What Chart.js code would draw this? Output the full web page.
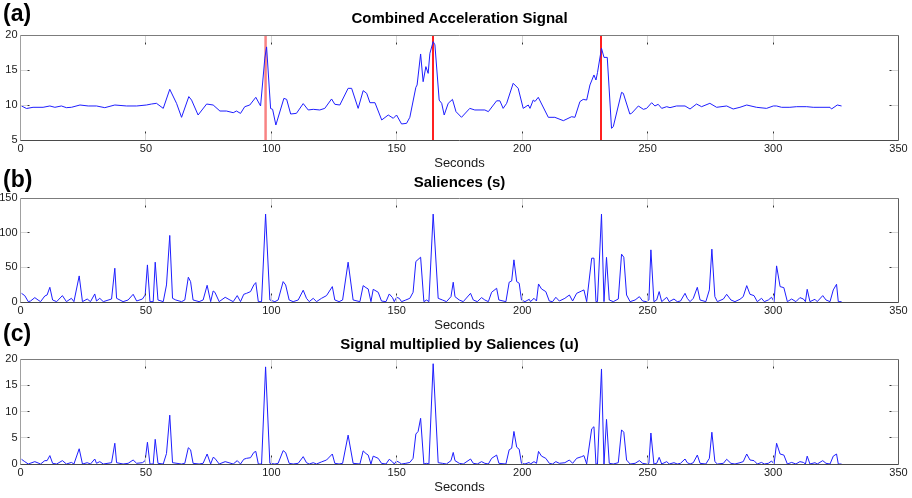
<!DOCTYPE html>
<html>
<head>
<meta charset="utf-8">
<script src="https://cdn.jsdelivr.net/npm/chart.js@4.4.0/dist/chart.umd.min.js"></script>
<style>
  body { margin: 0; background: #fff; width: 912px; height: 498px; position: relative; overflow: hidden;
         font-family: 'Liberation Sans', Arial, sans-serif; }
  canvas { position: absolute; left: 0; }
  .lbl { position: absolute; line-height: 0; white-space: nowrap; font-weight: bold; color: #000; }
  .letter { left: 3px; font-size: 23px; }
  .ttl { left: 20px; width: 879px; text-align: center; font-size: 15px; }
</style>
</head>
<body>
<canvas id="accelChart" width="912" height="151" style="top:20px"></canvas>
<canvas id="salienceChart" width="912" height="150" style="top:183px"></canvas>
<canvas id="productChart" width="912" height="151" style="top:344px"></canvas>

<div class="lbl letter" style="top:13px">(a)</div>
<div class="lbl ttl" style="top:18px">Combined Acceleration Signal</div>
<div class="lbl letter" style="top:179px">(b)</div>
<div class="lbl ttl" style="top:182px">Saliences (s)</div>
<div class="lbl letter" style="top:333px">(c)</div>
<div class="lbl ttl" style="top:344px">Signal multiplied by Saliences (u)</div>

<script>
//tick labels
const seconds = [0, 50, 100, 150, 200, 250, 300, 350];
const accelTicks = [5, 10, 15, 20];
const salienceTicks = [0, 50, 100, 150];
const productTicks = [0, 5, 10, 15, 20];

//red markers on the acceleration plot (seconds)
const peakTimes = [97.7, 164.5, 231.6];

//(a) combined acceleration signal
const accelTimes = [
  0.4, 2.4, 5, 9, 11.7, 13.7, 16.3, 18.3, 20.3, 23.7,
  27, 30.3, 33.6, 37.6, 42.3, 46.3, 50.2, 52.2, 54.2, 56.9,
  59.5, 62.2, 64.2, 67.1, 68.2, 70.8, 74.2, 76.8, 79.5, 82.1,
  84.8, 86.1, 87.7, 89.4, 91.4, 93.8, 95.7, 97.4, 98.1, 99.7,
  100.5, 101.8, 105, 106.1, 107.7, 110, 112.7, 114.7, 116.7, 119.3,
  121.3, 124, 125.3, 127.3, 130.6, 132, 134.6, 136.6, 138, 139.3,
  141.3, 144, 146.6, 148.6, 149.9, 151.9, 153.9, 155.2, 157.6, 158.1,
  159.5, 160.5, 161.6, 162.5, 163.2, 164.5, 165.2, 166.9, 167.9, 168.9,
  170.5, 172.2, 173.6, 175.8, 179.1, 181.1, 185.1, 186.5, 189.8, 191.1,
  192.4, 193.8, 196.4, 198.4, 200.4, 202.4, 203.1, 204.4, 205.1, 206.4,
  210.4, 213, 216.4, 219.7, 221, 223, 224.3, 225.7, 227, 228.6,
  229.4, 230, 231.6, 232.6, 233.9, 235.6, 236.3, 239.6, 240.3, 242.9,
  243.6, 246.3, 248.3, 249.6, 251.6, 252.9, 254.2, 255.6, 257.6, 258.9,
  261.5, 264.9, 266.9, 269.5, 271.5, 274.8, 277.5, 281.5, 284.1, 286.8,
  289.5, 293.4, 297.4, 300.1, 301.4, 303.4, 306.7, 309.4, 313.4, 316,
  318.7, 322.7, 323.3, 325.6, 327.3
];
const accelValues = [
  9.86, 9.5, 9.67, 9.67, 9.86, 9.67, 9.86, 9.62, 9.67, 10.0,
  9.86, 9.86, 9.62, 10.0, 9.86, 9.86, 10.0, 10.14, 10.24, 9.52,
  12.24, 10.24, 8.24, 11.2, 10.7, 8.57, 10.14, 10.0, 9.14, 9.14,
  8.9, 9.14, 8.8, 9.76, 10.0, 11.1, 9.86, 16.7, 18.3, 9.5,
  9.38, 7.14, 10.95, 10.8, 8.71, 8.81, 10.2, 9.29, 9.38, 9.29,
  9.52, 10.86, 10.1, 10.0, 12.38, 12.38, 9.52, 12.05, 11.67, 10.33,
  10.33, 7.86, 8.57, 8.1, 8.57, 7.29, 7.38, 8.24, 12.52, 12.86,
  17.29, 13.33, 15.48, 14.52, 17.38, 19.05, 18.6, 10.7, 10.24, 8.57,
  10.24, 10.8, 9.05, 8.24, 9.52, 9.29, 9.29, 9.05, 10.6, 10.6,
  9.52, 10.24, 13.1, 12.38, 9.52, 10.0, 9.52, 10.71, 10.5, 11.1,
  8.24, 8.24, 7.76, 8.33, 8.24, 10.48, 10.8, 10.71, 12.86, 14.29,
  13.57, 14.62, 18.1, 16.8, 16.8, 6.67, 6.9, 11.8, 11.67, 8.71,
  8.81, 9.86, 9.38, 9.52, 10.33, 9.86, 10.1, 9.52, 9.76, 9.62,
  9.86, 9.86, 9.43, 10.14, 9.76, 10.24, 9.67, 9.86, 9.43, 9.67,
  10.0, 9.67, 9.52, 9.86, 9.86, 9.67, 9.67, 9.76, 9.76, 9.67,
  9.67, 9.67, 9.43, 10.0, 9.86
];

//(b) saliences
const salienceTimes = [
  0.4, 1.7, 3.1, 4, 5.7, 7, 8, 9.7, 10.6, 11.7,
  12.8, 14.4, 16.7, 18.3, 20.3, 21.3, 23.4, 24.7, 26.6, 27.9,
  29.6, 30.3, 31.6, 33, 36.3, 37.6, 38.3, 40.9, 42.9, 44.9,
  46.3, 48.6, 49.7, 50.6, 51.6, 52.9, 53.7, 54.8, 56.9, 58.2,
  59.5, 60.6, 61.9, 64.2, 65.5, 66.9, 67.8, 68.8, 71.2, 72.8,
  74.4, 75.8, 76.8, 77.5, 79.2, 81.6, 83.5, 84.8, 86.4, 87.7,
  89, 90.1, 91.7, 93, 93.8, 94.8, 96.1, 97.7, 99.4, 101.4,
  102.7, 104.7, 105.7, 107.1, 108.7, 110.7, 112.7, 114, 115.1, 116.7,
  118, 120, 122, 124.3, 125.3, 127, 128.4, 130.6, 132.6, 135.3,
  136.6, 137.7, 138.6, 139.7, 140.6, 142.6, 143.9, 145.7, 147, 148.3,
  149, 149.9, 151, 151.9, 153.6, 155.2, 156.5, 157.6, 159.5, 160.8,
  161.9, 162.8, 164.5, 166.5, 168.2, 169.8, 171.6, 172.5, 173.2, 174.9,
  176.5, 179.4, 180.5, 182.1, 183.8, 185.1, 186.5, 187.8, 189.8, 190.7,
  193.5, 194.8, 195.8, 196.7, 197.8, 198.8, 199.7, 201.1, 202.8, 203.3,
  204.7, 205.7, 206.5, 207.7, 209.4, 210.8, 212.1, 213.4, 214.8, 217,
  218.8, 220.1, 221.7, 223.7, 224.6, 225.7, 227.7, 228.6, 229.4, 230,
  231.6, 232.6, 233.6, 234.7, 236.3, 238.3, 239.6, 240.5, 241.6, 243,
  245, 246.7, 248, 249.6, 250.5, 251.3, 252.5, 253.6, 254.6, 255.6,
  257.6, 258.6, 260.5, 261.8, 263.1, 264.9, 265.8, 266.9, 268.2, 269.8,
  270.9, 273.2, 274.6, 275.6, 276.8, 277.8, 280.2, 281.5, 283.2, 284.8,
  286.8, 288.1, 289.5, 290.8, 292.4, 293.7, 295.4, 296.5, 298.1, 299.4,
  300.4, 301.4, 302.8, 304.3, 305.7, 307.4, 309.1, 310.7, 312.1, 312.9,
  313.6, 314.7, 316.7, 317.6, 319.8, 321.1, 322.7, 324, 325.3, 326,
  327.3
];
const salienceValues = [
  12.5, 9.2, 0.5, 1.4, 6.3, 2.9, 0.5, 8.7, 10.1, 21.2,
  2.9, 0.5, 9.2, 0.5, 5.3, 0.5, 37.6, 0.5, 4.3, 0.5,
  11.6, 1.4, 5.3, 0.5, 4.3, 48.7, 5.3, 0.5, 2.9, 11.1,
  1.4, 4.3, 10.1, 53.5, 0.5, 0.5, 57.4, 2.9, 0.5, 24.6,
  96, 5.3, 2.9, 0.5, 2.9, 35.7, 29.4, 2.9, 0.5, 2.9,
  24.1, 0.5, 15.9, 14, 0.5, 6.8, 2.9, 0.5, 9.2, 0.5,
  11.1, 12.5, 15, 24.6, 28, 0.5, 0.5, 126.8, 2.9, 0.5,
  2.9, 29.4, 24.6, 2.9, 0.5, 2.9, 17, 5.3, 0.5, 5.3,
  0.5, 5.3, 9.2, 22.2, 2.9, 0.5, 2.9, 57.4, 2.9, 0.5,
  23.6, 20.7, 18.8, 0.5, 18.3, 14, 1.4, 0.5, 11.6, 6.3,
  0.5, 6.8, 5.3, 0.5, 2.9, 5.3, 14, 58.4, 64.6, 0.5,
  2.9, 0.5, 126.8, 5.3, 2.9, 0.5, 7.7, 28.5, 7.7, 2.9,
  0.5, 12.5, 2.9, 0.5, 6.3, 2.9, 0.5, 14, 19.8, 2.9,
  0.5, 28.5, 30.4, 60.8, 29.4, 27, 2.9, 0.5, 3.9, 0.5,
  5.3, 1.4, 26, 18.8, 15, 1.4, 0.5, 6.8, 1.4, 5.3,
  10.1, 1.4, 12.5, 15.9, 17.4, 0.5, 63.2, 63.2, 0.5, 0.5,
  126.8, 0.5, 64.4, 2.9, 0.5, 4.3, 69, 64.6, 10.1, 0.5,
  2.9, 7.7, 1.4, 0.5, 2.9, 75.2, 0.5, 2.9, 15, 0.5,
  6.8, 0.5, 4.3, 0.5, 1.4, 12.5, 5.3, 0.5, 5.3, 21.2,
  2.9, 0.5, 17.4, 76.2, 7.7, 0.5, 4.3, 11.1, 2.9, 0.5,
  3.9, 7.7, 23.6, 11.1, 9.2, 0.5, 5.3, 0.5, 2.9, 6.8,
  0.5, 52.1, 22.2, 20.7, 0.5, 4.3, 0.5, 6.3, 4.3, 0.5,
  18.3, 0.5, 3.9, 0.5, 9.2, 2.9, 0.5, 17.4, 25.6, 0.5,
  0.5
];

//(c) signal multiplied by saliences
const productTimes = [
  0.4, 1.7, 3.1, 5.7, 8, 9.7, 10.6, 11.7, 12.8, 14.4,
  16.7, 18.3, 20.3, 21.3, 23.4, 24.7, 26.6, 27.9, 29.6, 30.3,
  31.6, 33, 36.3, 37.6, 38.3, 40.9, 42.9, 44.9, 46.3, 48.6,
  49.7, 50.6, 51.6, 52.9, 53.7, 54.8, 56.9, 58.2, 59.5, 60.6,
  64.2, 65.5, 66.9, 67.8, 68.8, 71.2, 72.8, 74.4, 75.8, 76.8,
  77.5, 79.2, 81.6, 84.8, 86.4, 87.7, 89, 90.1, 91.7, 93,
  93.8, 94.8, 96.1, 97.7, 99.4, 101.4, 102.7, 104.7, 105.7, 107.1,
  108.7, 110.7, 112.7, 114, 115.1, 116.7, 118, 120, 122, 124.3,
  125.3, 127, 128.4, 130.6, 132.6, 135.3, 136.6, 137.7, 138.6, 139.7,
  140.6, 142.6, 143.9, 145.7, 147, 148.3, 149, 149.9, 151, 151.9,
  153.6, 155.2, 156.5, 157.6, 158.5, 159.5, 160.8, 161.9, 162.8, 164.5,
  166.5, 168.2, 169.8, 171.6, 172.5, 173.2, 174.9, 176.5, 179.4, 180.5,
  182.1, 183.8, 185.1, 186.5, 187.8, 189.8, 190.7, 193.5, 194.8, 195.8,
  196.7, 197.8, 198.8, 199.7, 201.1, 202.8, 203.3, 204.7, 205.7, 206.5,
  207.7, 209.4, 210.8, 212.1, 213.4, 214.8, 217, 218.8, 220.1, 221.7,
  223.7, 224.6, 225.7, 227.7, 228.6, 229.4, 230, 231.6, 232.6, 233.6,
  234.7, 236.3, 238.3, 239.6, 240.5, 241.6, 243, 245, 246.7, 248,
  249.6, 250.5, 251.3, 252.5, 253.6, 254.6, 255.6, 257.6, 258.6, 260.5,
  261.8, 263.1, 264.9, 265.8, 266.9, 268.2, 269.8, 270.9, 273.2, 274.6,
  275.6, 276.8, 277.8, 280.2, 281.5, 283.2, 284.8, 286.8, 288.1, 289.5,
  290.8, 292.4, 293.7, 295.4, 296.5, 298.1, 299.4, 300.4, 301.4, 302.8,
  304.3, 305.7, 307.4, 309.1, 310.7, 312.1, 312.9, 313.6, 314.7, 316.7,
  317.6, 319.8, 321.1, 322.7, 324, 325.3, 326, 327.3
];
const productValues = [
  0.9, 0.45, 0, 0.45, 0, 0.64, 0.64, 1.6, 0.13, 0,
  0.64, 0, 0.3, 0, 2.9, 0, 0.25, 0, 0.95, 0.13,
  0.45, 0, 0.25, 3.95, 0.25, 0, 0.13, 0.76, 0.13, 0.25,
  0.64, 4.14, 0, 0, 4.7, 0.13, 0, 2.0, 9.3, 0.25,
  0, 0.13, 3.1, 2.7, 0.13, 0, 0.13, 1.9, 0, 1.27,
  1.08, 0, 0.45, 0, 0.64, 0, 0.9, 1.08, 1.2, 2.2,
  2.4, 0, 0, 18.5, 0.13, 0, 0.13, 2.55, 2.17, 0.13,
  0, 0.13, 1.4, 0.25, 0, 0.25, 0, 0.4, 0.76, 1.9,
  0.13, 0, 0.13, 5.5, 0.13, 0, 2.5, 2.0, 1.7, 0,
  1.5, 1.08, 0.13, 0, 0.9, 0.4, 0, 0.57, 0.3, 0,
  0.13, 0.3, 1.08, 5.7, 6.2, 8.7, 0, 0.13, 0, 19.1,
  0.25, 0.13, 0, 0.64, 2.2, 0.64, 0.13, 0, 0.95, 0.13,
  0, 0.45, 0.13, 0, 1.08, 1.7, 0.13, 0, 2.7, 3.0,
  6.2, 3.2, 2.8, 0.13, 0, 0.3, 0, 0.45, 0.13, 2.4,
  1.5, 1.08, 0.13, 0, 0.45, 0.13, 0.25, 0.76, 0.13, 1.08,
  1.4, 1.6, 0, 6.7, 7.1, 0, 0, 18.1, 0, 8.5,
  0.13, 0, 0.25, 6.5, 6.05, 0.76, 0, 0.13, 0.64, 0.13,
  0, 0.13, 5.9, 0, 0.13, 1.27, 0, 0.45, 0, 0.25,
  0, 0.13, 0.95, 0.25, 0, 0.25, 1.7, 0.13, 0, 1.08,
  6.05, 0.45, 0, 0.13, 0.9, 0.13, 0, 0.25, 0.45, 1.9,
  0.76, 0.64, 0, 0.3, 0, 0.13, 0.57, 0, 3.95, 1.9,
  1.7, 0, 0.3, 0, 0.45, 0.3, 0, 1.5, 0, 0.25,
  0, 0.64, 0.13, 0, 1.5, 1.9, 0, 0
];

Chart.defaults.font.family = "'Liberation Sans', Arial, sans-serif";
const lineBlue = 'rgb(30, 30, 255)';
const textColor = '#1a1a1a';

//box around the plot, matlab style ticks pointing inwards, optional red markers
function framePlugin(markers) {
    function mark(ctx, x0, y0, dx, dy){
        ctx.strokeStyle = '#d4d4d4';
        ctx.beginPath();
        ctx.moveTo(x0, y0);
        ctx.lineTo(x0 + dx * 7, y0 + dy * 7);
        ctx.stroke();
        ctx.strokeStyle = '#333';
        ctx.beginPath();
        ctx.moveTo(x0 + dx * 7, y0 + dy * 7);
        ctx.lineTo(x0 + dx * 9, y0 + dy * 9);
        ctx.stroke();
    }
    return {
        id: 'frame',
        beforeDatasetsDraw(chart) {
            if (!markers) return;
            const {ctx, chartArea: a, scales: {x}} = chart;
            ctx.save();
            markers.forEach((t, i) => {
                //first marker comes out wider and paler in the original
                const px = x.getPixelForValue(t);
                ctx.strokeStyle = i === 0 ? 'rgba(245, 90, 90, 0.75)' : '#ff2020';
                ctx.lineWidth = i === 0 ? 2.5 : 2;
                const xx = i === 0 ? px : Math.round(px);
                ctx.beginPath();
                ctx.moveTo(xx, a.top);
                ctx.lineTo(xx, a.bottom);
                ctx.stroke();
            });
            ctx.restore();
        },
        afterDatasetsDraw(chart) {
            const {ctx, chartArea: a, scales: {x, y}} = chart;
            const L = Math.floor(a.left) + 0.5, R = Math.floor(a.right) + 0.5;
            const T = Math.floor(a.top) + 0.5, B = Math.floor(a.bottom) + 0.5;
            ctx.save();
            ctx.lineWidth = 1;
            x.ticks.forEach(tk => {
                const px = Math.floor(x.getPixelForValue(tk.value)) + 0.5;
                mark(ctx, px, B, 0, -1);
                mark(ctx, px, T, 0, 1);
            });
            y.ticks.forEach(tk => {
                const py = Math.floor(y.getPixelForValue(tk.value)) + 0.5;
                mark(ctx, L, py, 1, 0);
                mark(ctx, R, py, -1, 0);
            });
            const edges = [
                ['#7c7c7c', L, T, R, T],
                ['#a0a0a0', L, T, L, B],
                ['#4a4a4a', L, B, R, B],
                ['#5c5c5c', R, T, R, B]
            ];
            edges.forEach(e => {
                ctx.strokeStyle = e[0];
                ctx.beginPath();
                ctx.moveTo(e[1], e[2]);
                ctx.lineTo(e[3], e[4]);
                ctx.stroke();
            });
            ctx.restore();
        }
    };
}

function makePanel(id, times, values, yTicks, markers){
    const points = times.map((t, i) => ({x: t, y: values[i]}));
    return new Chart(document.getElementById(id), {
        type: 'line',
        data: {
            datasets: [{
                data: points,
                borderColor: lineBlue,
                borderWidth: 1,
                pointRadius: 0,
                tension: 0,
                fill: false
            }]
        },
        options: {
            responsive: false,
            animation: false,
            events: [],
            layout: { padding: { top: 15, right: 13.5, bottom: 0, left: 0 } },
            scales: {
                x: {
                    type: 'linear',
                    min: seconds[0],
                    max: seconds[seconds.length - 1],
                    afterBuildTicks: s => { s.ticks = seconds.map(v => ({value: v})); },
                    afterFit: s => { s.height = 31; s.paddingLeft = 0; s.paddingRight = 0; },
                    grid: { display: false, drawTicks: false },
                    border: { display: false },
                    ticks: { padding: 2, color: textColor, font: { size: 11 }, maxRotation: 0, autoSkip: false },
                    title: { display: true, text: 'Seconds', color: textColor, font: { size: 13 }, padding: 0 }
                },
                y: {
                    min: yTicks[0],
                    max: yTicks[yTicks.length - 1],
                    afterBuildTicks: s => { s.ticks = yTicks.map(v => ({value: v})); },
                    afterFit: s => { s.width = 20.5; },
                    grid: { display: false, drawTicks: false },
                    border: { display: false },
                    ticks: { padding: 3, color: textColor, font: { size: 11 } }
                }
            },
            plugins: {
                legend: { display: false },
                tooltip: { enabled: false }
            }
        },
        plugins: [framePlugin(markers)]
    });
}

makePanel('accelChart', accelTimes, accelValues, accelTicks, peakTimes);
makePanel('salienceChart', salienceTimes, salienceValues, salienceTicks, null);
makePanel('productChart', productTimes, productValues, productTicks, null);
</script>
</body>
</html>
